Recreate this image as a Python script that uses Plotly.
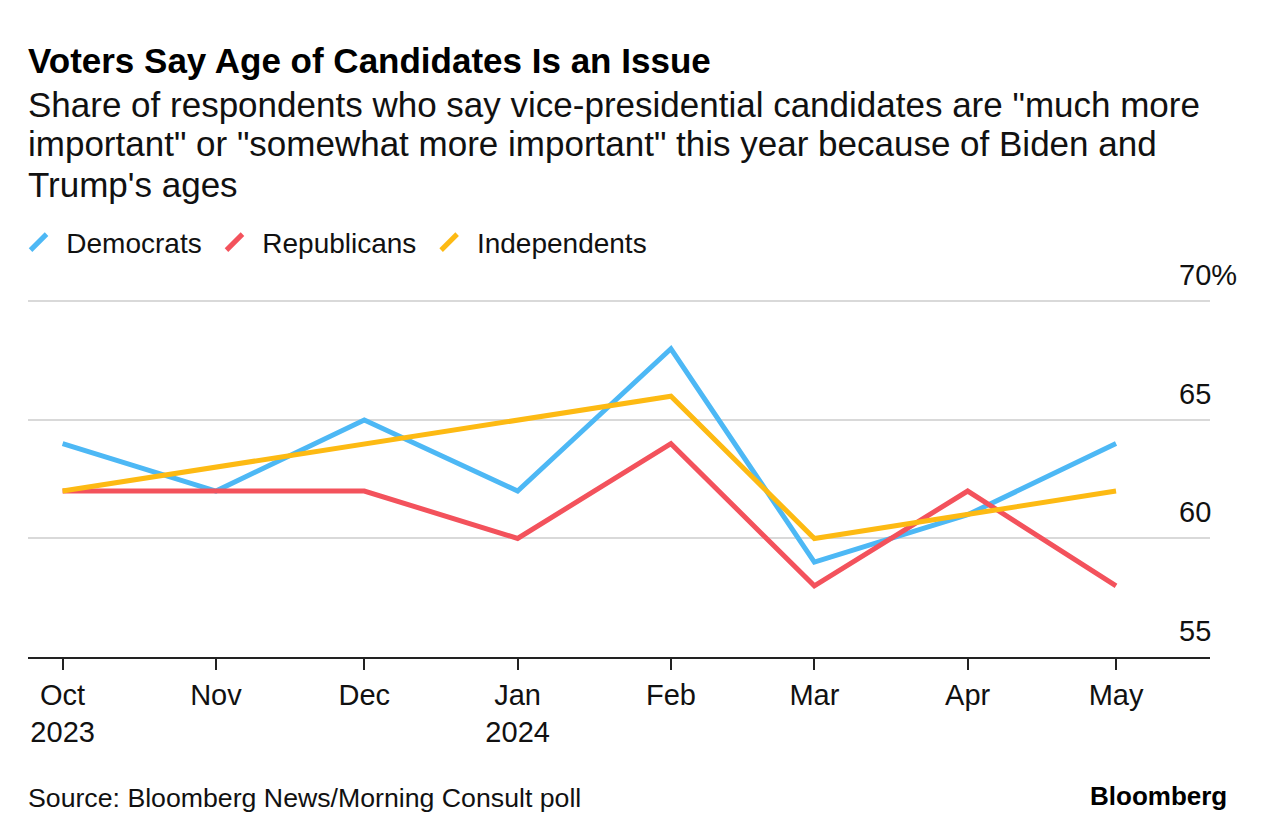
import plotly.graph_objects as go

# ---- data ----
months = ["2023-10-01", "2023-11-01", "2023-12-01", "2024-01-01",
          "2024-02-01", "2024-03-01", "2024-04-01", "2024-05-01"]
month_labels = ["Oct<br>2023", "Nov", "Dec", "Jan<br>2024", "Feb", "Mar", "Apr", "May"]
democrats = [64, 62, 65, 62, 68, 59, 61, 64]
republicans = [62, 62, 62, 60, 64, 58, 62, 58]
independents = [62, 63, 64, 65, 66, 60, 61, 62]
y_ticks = [55, 60, 65, 70]
y_tick_labels = ["55", "60", "65", "70%"]

series = [
    ("Democrats", democrats, "#4DB8F5"),
    ("Republicans", republicans, "#F3525C"),
    ("Independents", independents, "#FDBA13"),
]

FONT = "Liberation Sans, Arial, sans-serif"
O = 8  # page body offset
W, H = 1265 - 2 * O, 838 - 2 * O
Y_MIN, Y_MAX = 55, 70.1
PLOT_LEFT, PLOT_RIGHT, PLOT_BOTTOM = 28, 1210, 657
PLOT_TOP = 301 - (Y_MAX - 70) * (657 - 301) / 15.0
L = PLOT_LEFT - O
R = W - (PLOT_RIGHT - O)
T = PLOT_TOP - O
B = H - (PLOT_BOTTOM - O)
PH = PLOT_BOTTOM - PLOT_TOP
PW = PLOT_RIGHT - PLOT_LEFT


def py(p):  # absolute pixel y -> paper y
    return (PLOT_BOTTOM - p) / PH


def px(p):  # absolute pixel x -> paper x
    return (p - PLOT_LEFT) / PW


fig = go.Figure()
for name, vals, col in series:
    fig.add_trace(go.Scatter(x=months, y=vals, mode="lines", name=name,
                             line=dict(color=col, width=5), showlegend=False,
                             hoverinfo="skip"))
for name, vals, col in series:
    fig.add_trace(go.Scatter(x=[None], y=[None], mode="markers",
                             name="\u00a0" + name + "\u00a0",
                             marker=dict(symbol="line-ne", size=16, color=col,
                                         line=dict(color=col, width=5)),
                             showlegend=True))

annotations = []
annotations.append(dict(text="<b>Voters Say Age of Candidates Is an Issue</b>",
                        x=0, y=py(60), xref="paper", yref="paper", xanchor="left", yanchor="middle",
                        showarrow=False, font=dict(size=35, color="#000", family=FONT), xshift=-2))
sub_lines = ["Share of respondents who say vice-presidential candidates are \"much more",
             "important\" or \"somewhat more important\" this year because of Biden and",
             "Trump's ages"]
for line, yy in zip(sub_lines, [104, 143, 184]):
    annotations.append(dict(text=line, x=0, y=py(yy), xref="paper", yref="paper",
                            xanchor="left", yanchor="middle", showarrow=False, xshift=-2,
                            font=dict(size=35, color="#111", family=FONT)))
for v, t in zip(y_ticks, y_tick_labels):
    annotations.append(dict(text=t, x=1, y=v, xref="paper", yref="y", xanchor="left",
                            yanchor="middle", xshift=-33, yshift=26, showarrow=False,
                            font=dict(size=29, color="#111", family=FONT)))
annotations.append(dict(text="Source: Bloomberg News/Morning Consult poll", x=0, y=py(798),
                        xref="paper", yref="paper", xanchor="left", yanchor="middle",
                        showarrow=False, xshift=-2, font=dict(size=26.7, color="#111", family=FONT)))
annotations.append(dict(text="<b>Bloomberg</b>", x=px(1229), y=py(796), xref="paper", yref="paper",
                        xanchor="right", yanchor="middle", showarrow=False,
                        font=dict(size=26, color="#000", family=FONT)))

fig.update_layout(
    width=W, height=H,
    margin=dict(l=L, r=R, t=T, b=B, pad=0, autoexpand=False),
    paper_bgcolor="white", plot_bgcolor="white",
    font=dict(family=FONT, color="#111"),
    showlegend=True,
    legend=dict(orientation="h", x=-0.008, y=py(242), xanchor="left", yanchor="middle",
                font=dict(size=28, color="#111", family=FONT), itemsizing="trace",
                bgcolor="rgba(0,0,0,0)"),
    annotations=annotations,
    xaxis=dict(type="date", range=["2023-09-24", "2024-05-20"],
               tickmode="array", tickvals=months, ticktext=month_labels,
               ticks="outside", ticklen=11, tickwidth=1.5, tickcolor="#222",
               showline=True, linecolor="#222", linewidth=1.5,
               showgrid=False, zeroline=False, automargin=False,
               tickfont=dict(size=29, color="#111", family=FONT)),
    yaxis=dict(range=[Y_MIN, Y_MAX], tickmode="array", tickvals=y_ticks,
               showticklabels=False, showgrid=True, gridcolor="#D9D9D9", gridwidth=2,
               zeroline=False, showline=False, ticks="", automargin=False),
)

fig.write_html("out.html")
